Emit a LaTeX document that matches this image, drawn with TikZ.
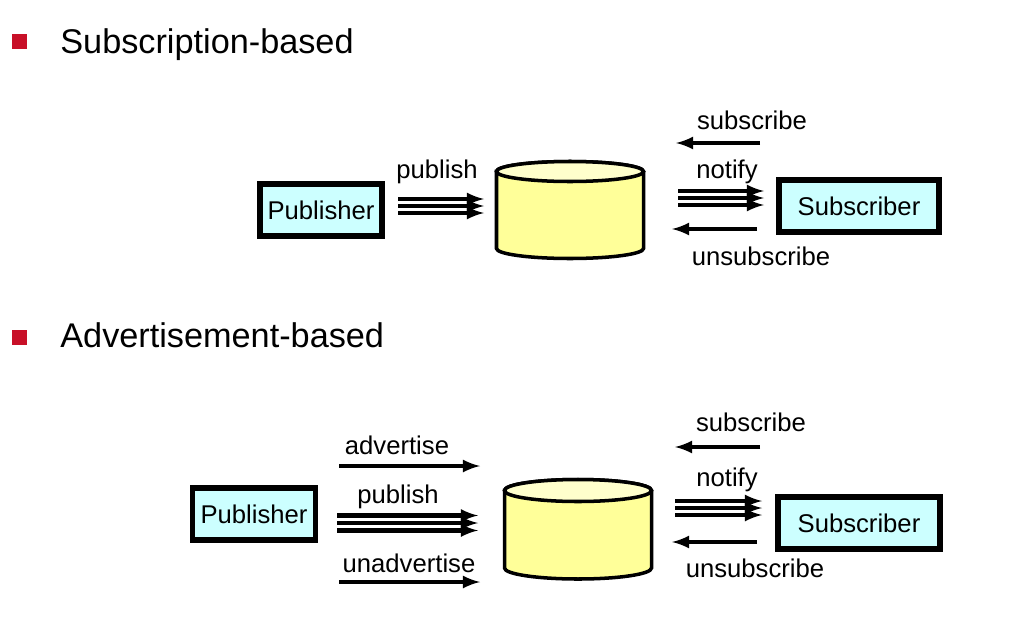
\documentclass[tikz,border=0pt]{standalone}
\usepackage{fontspec}
\setmainfont{Liberation Sans}
\usepackage{xcolor}
\usepackage{tikz}
\usetikzlibrary{shapes,arrows,positioning,calc}

\definecolor{bulletred}{RGB}{200,16,40}
\definecolor{boxcyan}{RGB}{204,255,255}
\definecolor{cylbody}{RGB}{255,255,153}
\definecolor{cyltop}{RGB}{255,255,204}

\tikzset{
  box/.style={draw, line width=2.9pt, fill=boxcyan, minimum height=1.04cm, inner sep=0pt, font=\fontsize{14.6}{16}\selectfont},
  lbl/.style={inner sep=0pt, font=\fontsize{14.6}{16}\selectfont},
  head/.style={anchor=base west, inner sep=0pt, font=\fontsize{19.5}{22}\selectfont},
  flow/.style={-latex, line width=2.3pt},
  cyl/.style={line width=2pt, fill=cylbody}
}

\begin{document}
\begin{tikzpicture}[x=0.02cm, y=0.02cm]
            \useasboundingbox (0,0) rectangle (1024,-622);
            % bullets and headings
            \fill[bulletred] (12,-34) rectangle (27,-49);
            \node[head] (subhead) at (60,-53) {Subscription-based};
            \fill[bulletred] (12,-330) rectangle (27,-345);
            \node[head] (advhead) at (60,-347) {Advertisement-based};

            % subscription-based: store
            \filldraw[cyl] (496.5,-171.5) -- (496.5,-248.5) arc (180:360:73.5 and 10) -- (643.5,-171.5) arc (0:180:73.5 and 10) -- cycle;
            \filldraw[cyl, fill=cyltop] (570,-171.5) ellipse (73.5 and 10);
            \node[box, minimum width=2.44cm] (pub1) at (321,-210) {Publisher};
            \node[box, minimum width=3.2cm] (sub1) at (859,-206) {Subscriber};

            \node[lbl] (publbl1) at (437,-172) {publish};
            \coordinate (pubS1) at (398,-206);
            \coordinate (pubE1) at (484,-206);
            \foreach \d in {-7,0,7}
            \draw[flow] ($(pubS1)+(0,\d)$) -- ($(pubE1)+(0,\d)$);

            \node[lbl] (sublbl1) at (752,-120) {subscribe};
            \coordinate (subS1) at (760,-143);
            \coordinate (subE1) at (676,-143);
            \draw[flow] (subS1) -- (subE1);

            \node[lbl] (notlbl1) at (727,-172) {notify};
            \coordinate (notS1) at (678,-198);
            \coordinate (notE1) at (764,-198);
            \foreach \d in {-7,0,7}
            \draw[flow] ($(notS1)+(0,\d)$) -- ($(notE1)+(0,\d)$);

            \node[lbl] (unslbl1) at (761,-256) {unsubscribe};
            \coordinate (unsS1) at (757,-229);
            \coordinate (unsE1) at (672,-229);
            \draw[flow] (unsS1) -- (unsE1);

            % advertisement-based: store
            \filldraw[cyl] (504.5,-490.5) -- (504.5,-568) arc (180:360:73.5 and 11) -- (651.5,-490.5) arc (0:180:73.5 and 11) -- cycle;
            \filldraw[cyl, fill=cyltop] (578,-490.5) ellipse (73.5 and 11);
            \node[box, minimum width=2.46cm] (pub2) at (254,-514) {Publisher};
            \node[box, minimum width=3.24cm] (sub2) at (859,-523) {Subscriber};

            \node[lbl] (advlbl) at (397,-445) {advertise};
            \coordinate (advS) at (339,-466);
            \coordinate (advE) at (480,-466);
            \draw[flow] (advS) -- (advE);

            \node[lbl] (publbl2) at (398,-497) {publish};
            \coordinate (pubS2) at (337,-523);
            \coordinate (pubE2) at (478,-523);
            \foreach \d in {-7.5,0,7.5}
            \draw[flow] ($(pubS2)+(0,\d)$) -- ($(pubE2)+(0,\d)$);

            \node[lbl] (unadvlbl) at (409,-563) {unadvertise};
            \coordinate (unadvS) at (339,-582);
            \coordinate (unadvE) at (480,-582);
            \draw[flow] (unadvS) -- (unadvE);

            \node[lbl] (sublbl2) at (751,-422) {subscribe};
            \coordinate (subS2) at (760,-447);
            \coordinate (subE2) at (675,-447);
            \draw[flow] (subS2) -- (subE2);

            \node[lbl] (notlbl2) at (727,-480) {notify};
            \coordinate (notS2) at (675,-508);
            \coordinate (notE2) at (762,-508);
            \foreach \d in {-7,0,7}
            \draw[flow] ($(notS2)+(0,\d)$) -- ($(notE2)+(0,\d)$);

            \node[lbl] (unslbl2) at (755,-568) {unsubscribe};
            \coordinate (unsS2) at (757,-542);
            \coordinate (unsE2) at (672,-542);
            \draw[flow] (unsS2) -- (unsE2);
\end{tikzpicture}
\end{document}
